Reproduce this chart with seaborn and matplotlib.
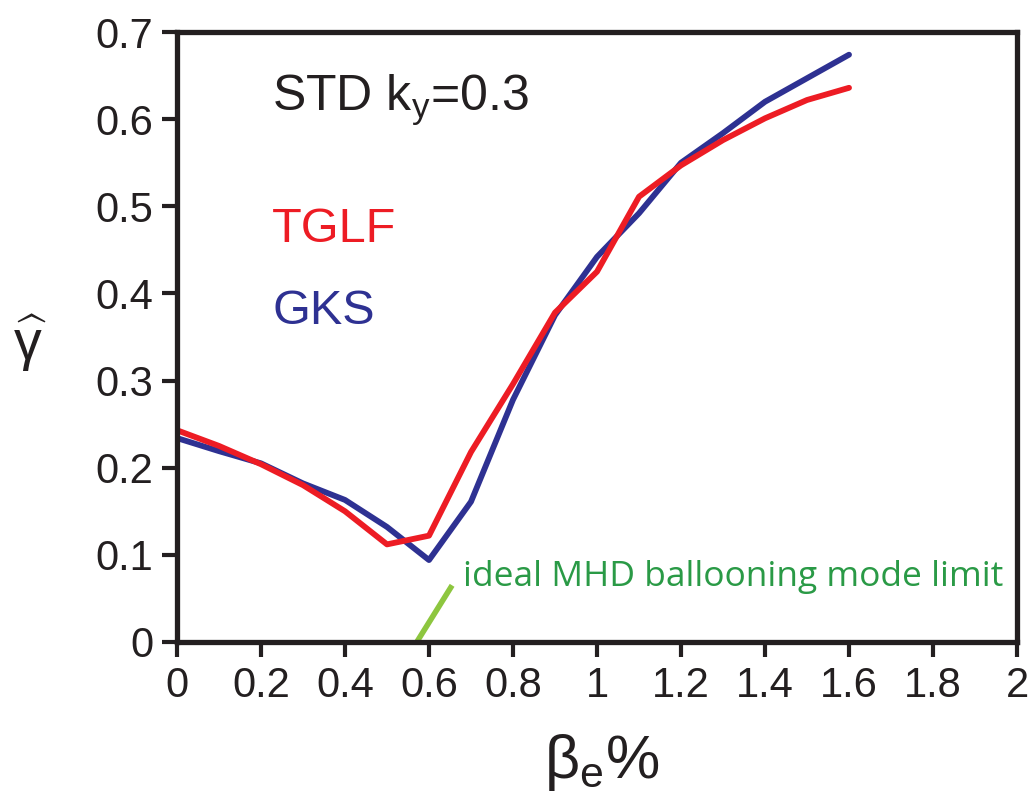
import numpy as np
import pandas as pd
import seaborn as sns
import matplotlib.pyplot as plt

# beta_e % scan points
beta = [0.0, 0.1, 0.2, 0.3, 0.4, 0.5, 0.6, 0.7, 0.8, 0.9, 1.0, 1.1, 1.2, 1.3, 1.4, 1.5, 1.6]
# growth rates
tglf = [0.243, 0.225, 0.204, 0.180, 0.150, 0.112, 0.122, 0.218, 0.296, 0.378, 0.425,
        0.511, 0.547, 0.576, 0.601, 0.622, 0.636]
gks = [0.234, 0.219, 0.205, 0.182, 0.163, 0.132, 0.094, 0.161, 0.278, 0.375, 0.442,
       0.492, 0.550, 0.584, 0.620, 0.647, 0.674]

# ideal MHD ballooning limit marker
mhd_x = [0.571, 0.655]
mhd_y = [0.0, 0.065]

xticks = [0, 0.2, 0.4, 0.6, 0.8, 1.0, 1.2, 1.4, 1.6, 1.8, 2.0]
xticklabels = ["0", "0.2", "0.4", "0.6", "0.8", "1", "1.2", "1.4", "1.6", "1.8", "2"]
yticks = [0, 0.1, 0.2, 0.3, 0.4, 0.5, 0.6, 0.7]
yticklabels = ["0", "0.1", "0.2", "0.3", "0.4", "0.5", "0.6", "0.7"]

red = "#ed1c24"
blue = "#2e3192"
ink = "#231f20"

sns.set_style("ticks")
plt.rcParams['font.family'] = ['Liberation Sans', 'DejaVu Sans']
plt.rcParams['mathtext.fontset'] = 'custom'
plt.rcParams['mathtext.rm'] = 'Liberation Sans'
plt.rcParams['mathtext.it'] = 'Liberation Sans:italic'

df = pd.DataFrame({
    "beta": beta * 2,
    "gamma": tglf + gks,
    "code": ["TGLF"] * len(beta) + ["GKS"] * len(beta),
})

fig = plt.figure(figsize=(10.32, 8.07), dpi=100)
ax = fig.add_axes([0.1715, 0.2045, 0.814, 0.7558])

sns.lineplot(data=df, x="beta", y="gamma", hue="code", hue_order=["GKS", "TGLF"],
             palette={"TGLF": red, "GKS": blue}, linewidth=4.2, legend=False, ax=ax)
ax.plot(mhd_x, mhd_y, color="#8dc63f", linewidth=4, solid_capstyle="butt")

ax.set_xlim(0, 2)
ax.set_ylim(0, 0.7)
ax.set_xticks(xticks)
ax.set_xticklabels(xticklabels)
ax.set_yticks(yticks)
ax.set_yticklabels(yticklabels)
ax.tick_params(axis="both", direction="out", length=11, width=3, labelsize=30,
               colors=ink, pad=6)

for sp in ax.spines.values():
    sp.set_linewidth(3.8)
    sp.set_color(ink)

ax.set_xlabel(r"$\mathregular{\beta_e}$%", fontsize=44, color=ink)
ax.xaxis.set_label_coords(0.505, -0.148)
ax.set_ylabel(r"$\widehat{\mathregular{\gamma}}$", fontsize=40, color=ink, rotation=0,
              va="center")
ax.yaxis.set_label_coords(-0.175, 0.49)

ax.text(0.227, 0.622, r"STD k$_\mathregular{y}$=0.3", fontsize=36, color=ink, va="center")
ax.text(0.227, 0.473, "TGLF", fontsize=35, color=red, va="center")
ax.text(0.227, 0.379, "GKS", fontsize=35, color=blue, va="center")
ax.text(0.68, 0.074, "ideal MHD ballooning mode limit", fontsize=25.5, color="#2a9a46",
        family=["Open Sans", "DejaVu Sans"], va="center")

fig.savefig("out.png", dpi=100)
